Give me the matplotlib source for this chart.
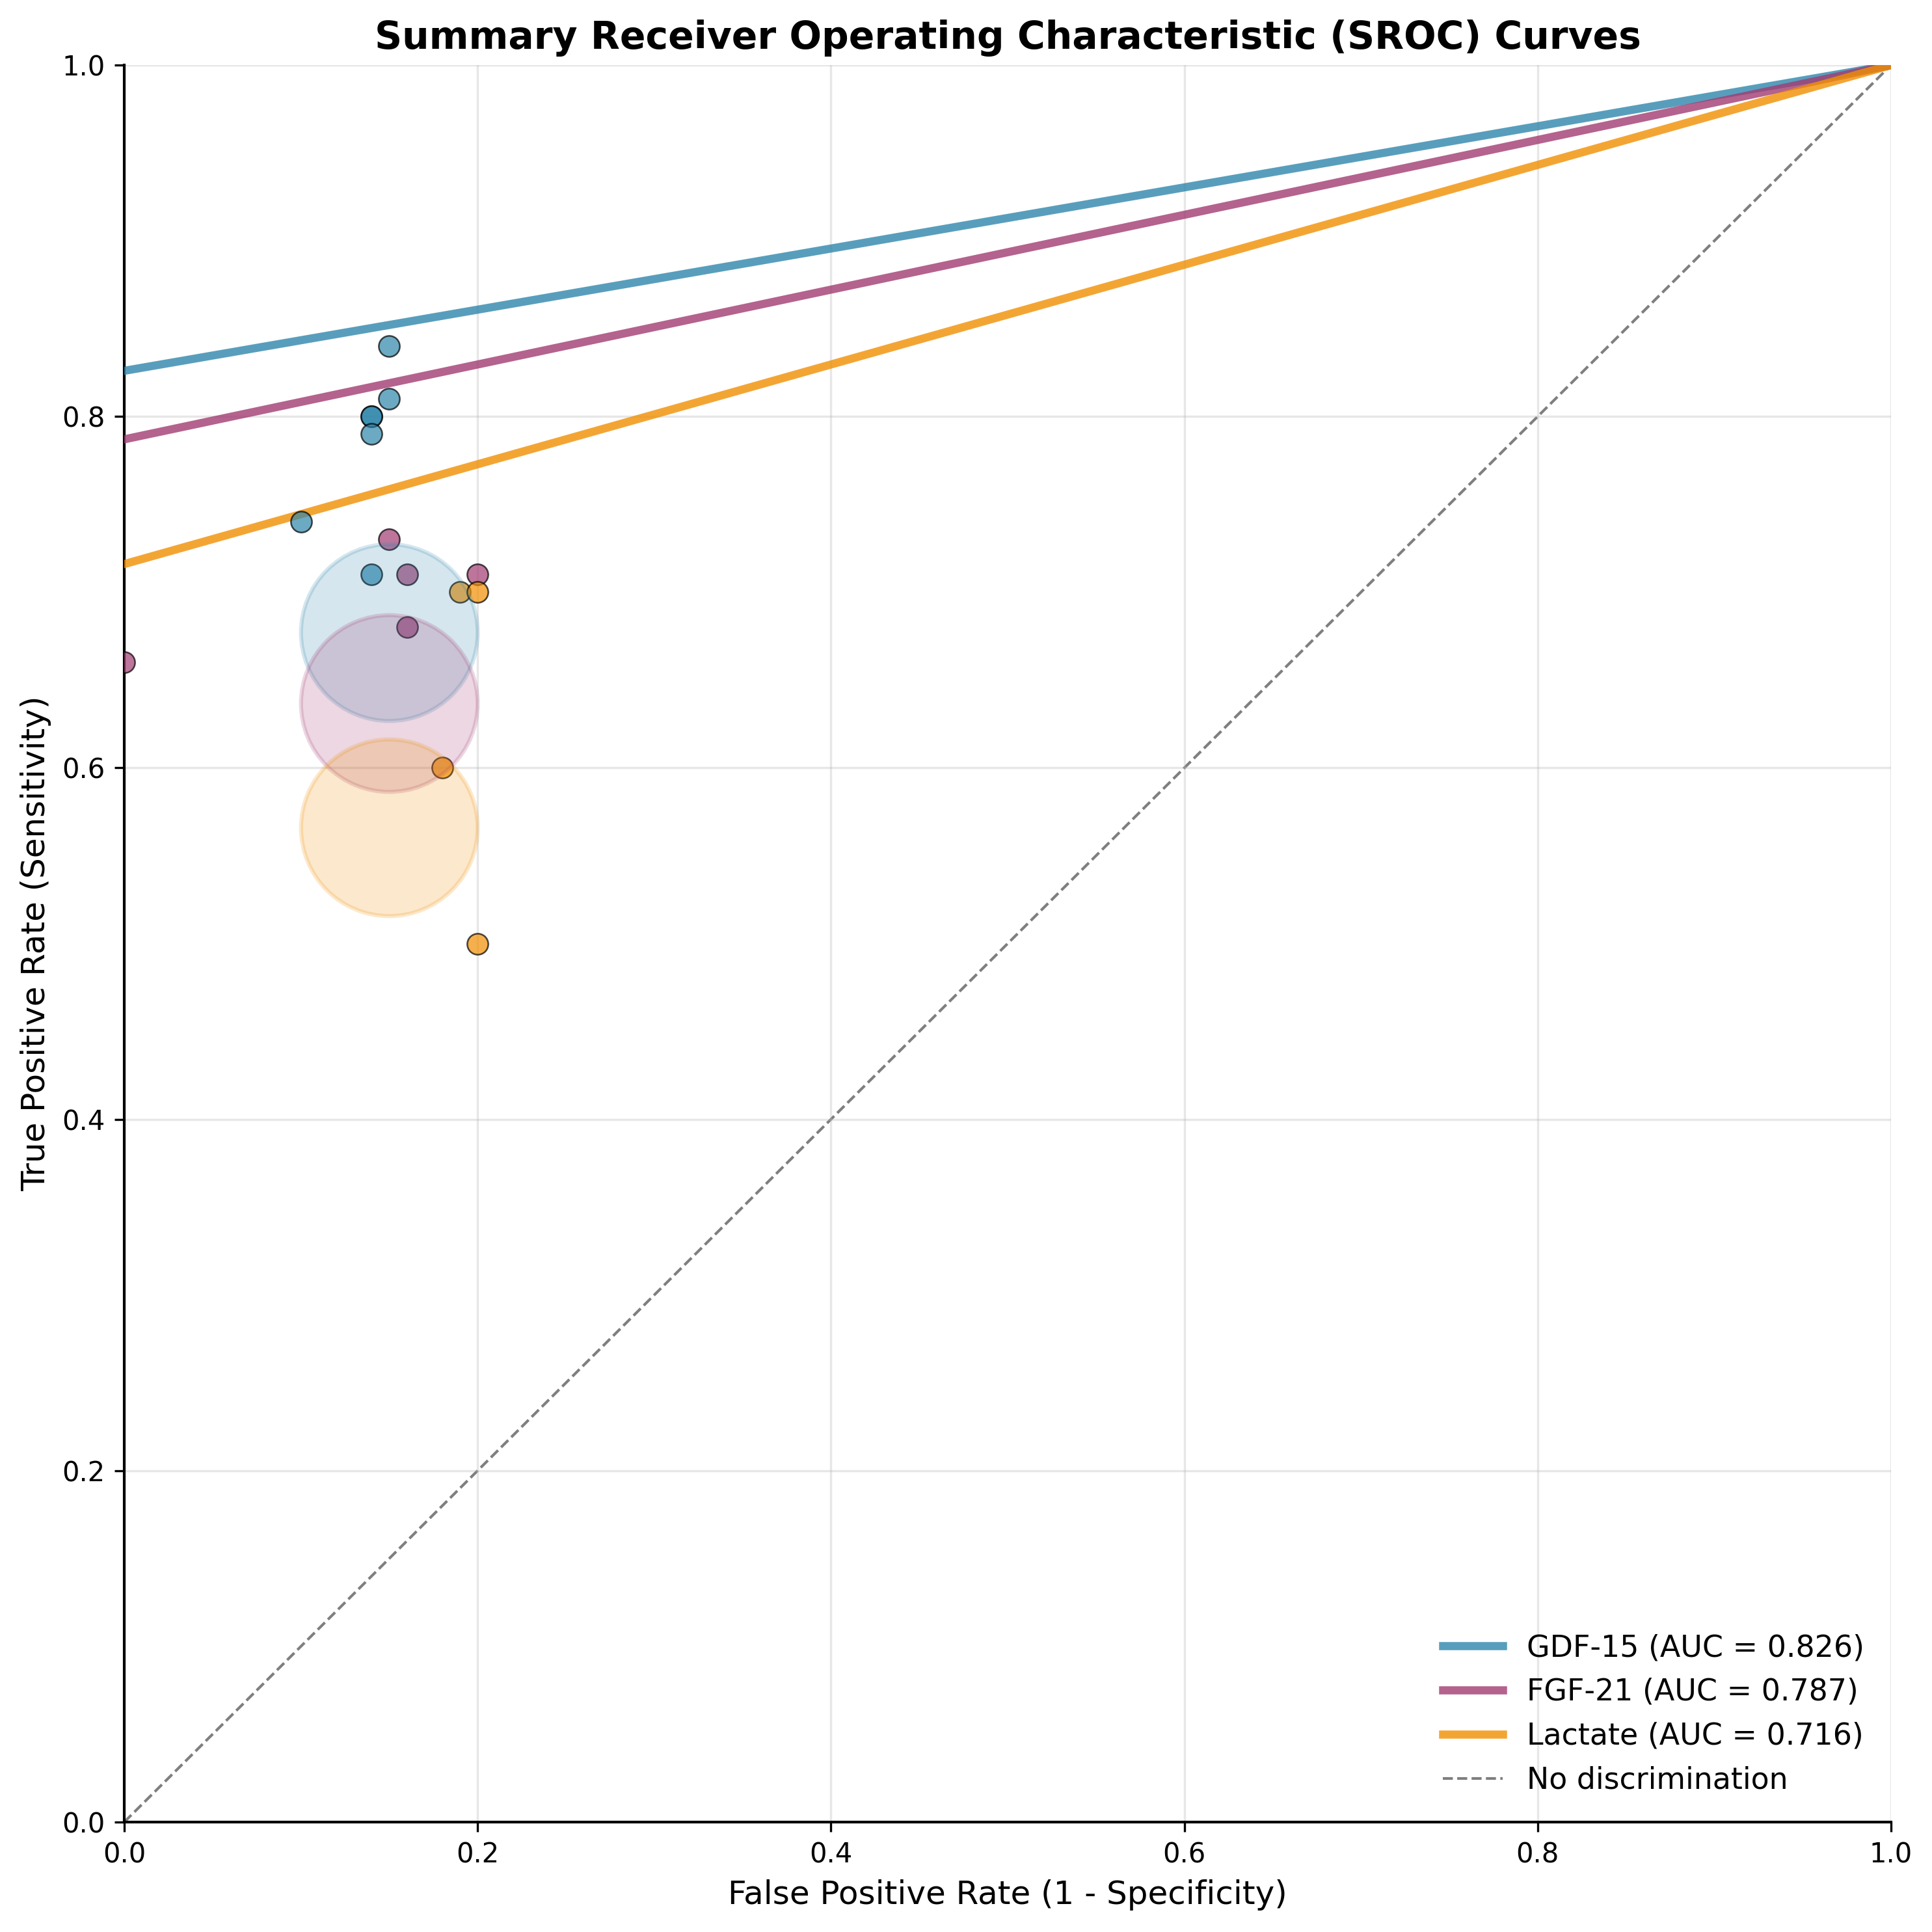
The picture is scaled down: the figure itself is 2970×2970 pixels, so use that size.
"""Summary ROC curves for three biomarkers with study-level points."""

import matplotlib

matplotlib.use("Agg")
import matplotlib.pyplot as plt  # noqa: E402

MARKERS = ["GDF-15", "FGF-21", "Lactate"]
COLORS = {"GDF-15": "#2E86AB", "FGF-21": "#A23B72", "Lactate": "#F18F01"}
AUC = {"GDF-15": 0.826, "FGF-21": 0.787, "Lactate": 0.716}

# SROC line endpoints (FPR, TPR)
CURVE_FPR = [0.0, 1.0]

# individual study points (1 - specificity, sensitivity)
STUDY_FPR = {
    "GDF-15": [0.15, 0.15, 0.14, 0.14, 0.14, 0.10, 0.14],
    "FGF-21": [0.00, 0.15, 0.16, 0.16, 0.20],
    "Lactate": [0.19, 0.20, 0.18, 0.20],
}
STUDY_TPR = {
    "GDF-15": [0.84, 0.81, 0.80, 0.80, 0.79, 0.74, 0.71],
    "FGF-21": [0.66, 0.73, 0.71, 0.68, 0.71],
    "Lactate": [0.70, 0.70, 0.60, 0.50],
}

# pooled summary points
SUMMARY_FPR = {"GDF-15": 0.15, "FGF-21": 0.15, "Lactate": 0.15}
SUMMARY_TPR = {"GDF-15": 0.677, "FGF-21": 0.637, "Lactate": 0.566}


def main() -> None:
    plt.rcParams.update({"font.family": "DejaVu Sans"})
    fig = plt.figure(figsize=(9.9, 9.9), dpi=300)
    ax = fig.add_axes([0.0643, 0.0569, 0.9145, 0.9094])

    for marker in MARKERS:
        color = COLORS[marker]
        ax.plot(
            CURVE_FPR,
            [AUC[marker], 1.0],
            color=color,
            linewidth=3,
            alpha=0.8,
            label=f"{marker} (AUC = {AUC[marker]:.3f})",
            zorder=3,
        )

    for marker in MARKERS:
        ax.scatter(
            STUDY_FPR[marker],
            STUDY_TPR[marker],
            s=60,
            color=COLORS[marker],
            alpha=0.7,
            edgecolors="black",
            linewidths=0.6,
            zorder=4,
        )

    for marker in MARKERS:
        color = COLORS[marker]
        ax.scatter(
            [SUMMARY_FPR[marker]],
            [SUMMARY_TPR[marker]],
            s=4250,
            color=color,
            alpha=0.2,
            edgecolors=color,
            linewidths=1.5,
            zorder=5,
        )

    ax.plot(
        [0, 1],
        [0, 1],
        linestyle="--",
        color="black",
        alpha=0.5,
        linewidth=1,
        label="No discrimination",
        zorder=1,
    )

    ax.set_xlim(0, 1)
    ax.set_ylim(0, 1)
    ax.set_xlabel("False Positive Rate (1 - Specificity)", fontsize=12)
    ax.set_ylabel("True Positive Rate (Sensitivity)", fontsize=12)
    ax.set_title(
        "Summary Receiver Operating Characteristic (SROC) Curves",
        fontsize=14,
        fontweight="bold",
    )
    ax.tick_params(labelsize=10)
    ax.grid(True, alpha=0.3)
    ax.spines["top"].set_visible(False)
    ax.spines["right"].set_visible(False)
    ax.spines["left"].set_linewidth(1.0)
    ax.spines["bottom"].set_linewidth(1.0)
    ax.legend(loc="lower right", fontsize=11, frameon=False)

    fig.savefig("out.png", dpi=300, facecolor="white")
    plt.close(fig)


if __name__ == "__main__":
    main()
